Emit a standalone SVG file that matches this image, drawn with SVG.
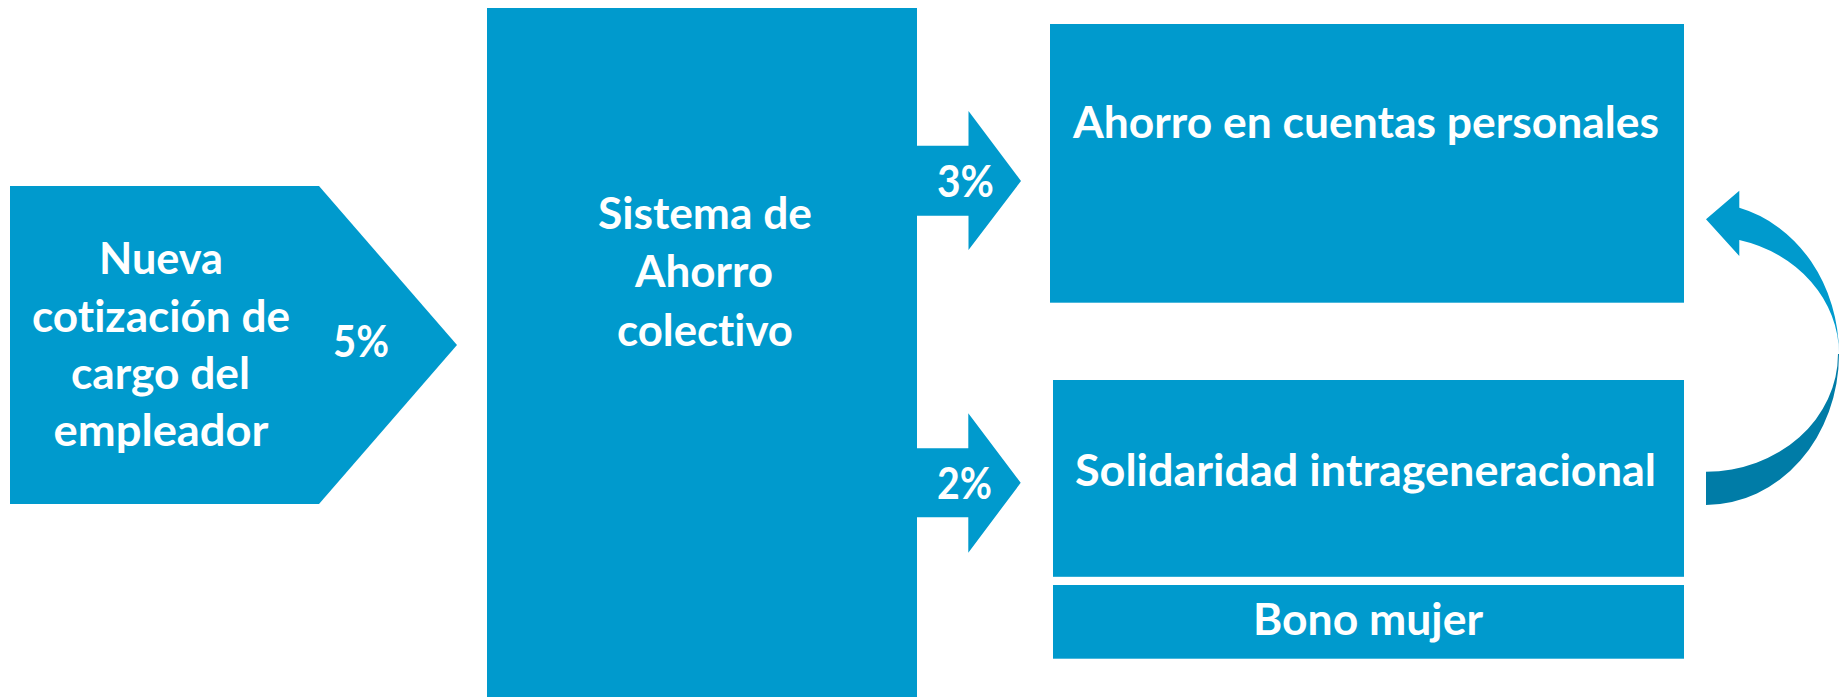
<svg xmlns="http://www.w3.org/2000/svg" width="1839" height="697" viewBox="0 0 1839 697">
<style>
.box{fill:#009ACD}
.dark{fill:#007CA7}
.t{font-family:Lato,"Open Sans","Liberation Sans",sans-serif;font-weight:bold;font-size:43px;fill:#FFFFFF;text-anchor:middle;font-variant-ligatures:none}
</style>
<rect x="0" y="0" width="1839" height="697" fill="#FFFFFF"/>
<g id="node-nueva-cotizacion">
<polygon class="box" points="10,186 319,186 457,345 319,504 10,504"/>
<text class="t" x="161" y="274" textLength="124" lengthAdjust="spacingAndGlyphs">Nueva</text>
<text class="t" x="161" y="332" textLength="258" lengthAdjust="spacingAndGlyphs">cotización de</text>
<text class="t" x="160.5" y="389" textLength="179" lengthAdjust="spacingAndGlyphs">cargo del</text>
<text class="t" x="161" y="446" textLength="215" lengthAdjust="spacingAndGlyphs">empleador</text>
<text class="t" x="361" y="357" textLength="56" lengthAdjust="spacingAndGlyphs">5%</text>
</g>
<g id="node-sistema">
<rect class="box" x="487" y="8" width="430" height="689"/>
<text class="t" x="705" y="228.5" textLength="214" lengthAdjust="spacingAndGlyphs">Sistema de</text>
<text class="t" x="704" y="287" textLength="138" lengthAdjust="spacingAndGlyphs">Ahorro</text>
<text class="t" x="705" y="345.7" textLength="176" lengthAdjust="spacingAndGlyphs">colectivo</text>
</g>
<g id="node-ahorro-cuentas">
<rect class="box" x="1050" y="24" width="634" height="278.7"/>
<text class="t" x="1366" y="138.3" textLength="586" lengthAdjust="spacingAndGlyphs">Ahorro en cuentas personales</text>
</g>
<g id="node-solidaridad">
<rect class="box" x="1053" y="380" width="631" height="196.8"/>
<text class="t" x="1365.5" y="486" textLength="581" lengthAdjust="spacingAndGlyphs">Solidaridad intrageneracional</text>
</g>
<g id="node-bono">
<rect class="box" x="1053" y="585" width="631" height="73.7"/>
<text class="t" x="1368" y="635" textLength="230" lengthAdjust="spacingAndGlyphs">Bono mujer</text>
</g>
<g id="connectors">
<polygon class="box" points="916,145.7 968.5,145.7 968.5,111 1021,181 968.5,250 968.5,215.7 916,215.7"/>
<text class="t" x="965.5" y="196.7" textLength="57" lengthAdjust="spacingAndGlyphs">3%</text>
<polygon class="box" points="916,448.3 968.3,448.3 968.3,413.3 1020.7,482.8 968.3,552.7 968.3,517.3 916,517.3"/>
<text class="t" x="964.5" y="499.3" textLength="55" lengthAdjust="spacingAndGlyphs">2%</text>
<path class="box" d="M1706,219.3 L1739.3,190.7 L1739.3,207.8 A133,151 0 0 1 1839,354 A132,117.7 0 0 0 1739.3,240.1 L1739.3,256 Z"/>
<path class="dark" d="M1839,354 A133,151 0 0 1 1706,505 L1706,471.7 A132,117.7 0 0 0 1838,354 Z"/>
</g>
</svg>
